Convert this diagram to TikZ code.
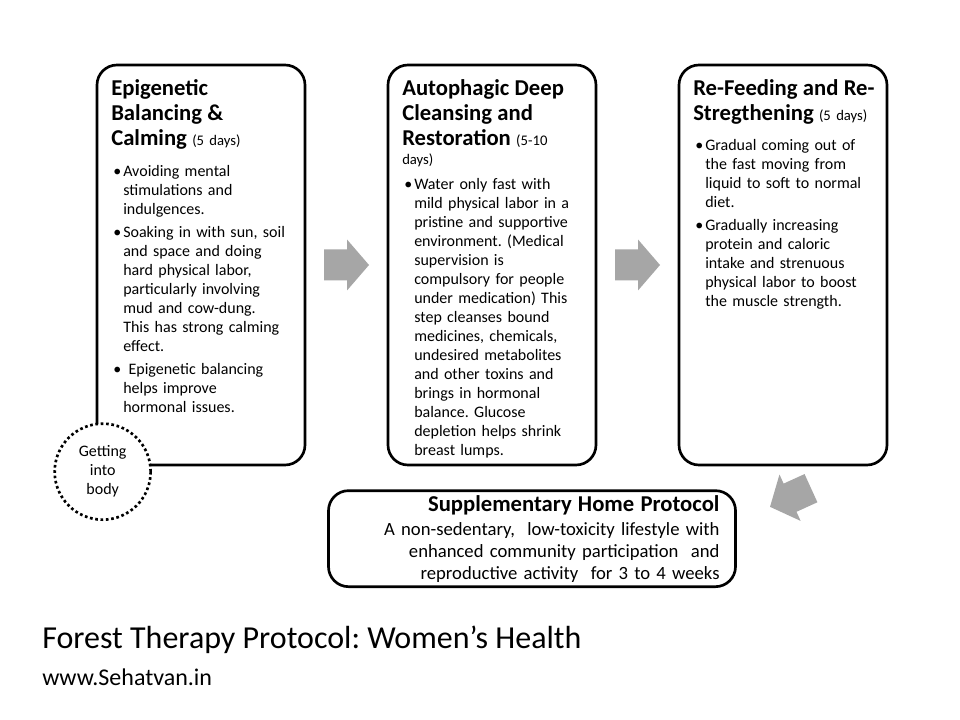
\documentclass[tikz,border=0pt]{standalone}
\usepackage{fontspec}
\setmainfont{Carlito}
\usepackage{tikz}
\usetikzlibrary{positioning,calc}

\definecolor{arrowgray}{RGB}{166,166,166}

\newcommand{\headfont}{\fontsize{17}{18.75}\selectfont\bfseries}
\newcommand{\daysfont}{\fontsize{11}{18.75}\selectfont\mdseries}
\newcommand{\bodyfont}{\fontsize{12}{14.25}\selectfont}
\newcommand{\stagebullet}{\par\hangindent=9pt\hangafter=1\noindent\makebox[9pt][l]{\kern1.5pt\textbullet}}

\begin{document}
\frenchspacing
\begin{tikzpicture}[
    x=0.75pt, y=-0.75pt,
    stage/.style={draw, line width=2pt, rounded corners=15pt, minimum width=156pt, minimum height=300pt, inner sep=0pt},
    stagetext/.style={anchor=north west, inner sep=0pt, text width=148pt, font=\bodyfont,
        execute at begin node={\setlength{\parindent}{0pt}}},
    homebox/.style={draw, line width=2pt, rounded corners=15pt, minimum height=72pt, inner xsep=12pt,
        text width=281.25pt, align=right, font=\fontsize{14}{16.3}\selectfont},
    getin/.style={circle, draw, line width=2pt, dash pattern=on 2pt off 2pt, fill=white, minimum size=72pt,
        inner sep=0pt, align=center, font=\bodyfont},
    blockarrow/.pic={\fill[arrowgray] (-22.5,-15.5) -- (0.5,-15.5) -- (0.5,-25.5) -- (22.5,0)
        -- (0.5,25.5) -- (0.5,15.5) -- (-22.5,15.5) -- cycle;}
]
    \fill[white] (0,0) rectangle (960,720);

    % Stages
    \node[stage] (epi) at (201,265) {};
    \node[stage, right=60.25pt of epi] (auto) {};
    \node[stage, right=60.25pt of auto] (refeed) {};

    % Stage 1
    \node[stagetext] (epitext) at ([xshift=11.5pt, yshift=-12pt]epi.north west) {%
        \headfont Epigenetic\newline Balancing \&\newline Calming \daysfont(5 days)\par
        \bodyfont\vspace{9pt}%
        \stagebullet Avoiding mental\newline stimulations and\newline indulgences.\par\vspace{3pt}%
        \stagebullet Soaking in with sun, soil\newline and space and doing\newline hard physical labor,\newline
            particularly involving\newline mud and cow-dung.\newline This has strong calming\newline effect.\par\vspace{3pt}%
        \stagebullet\ Epigenetic balancing\newline helps improve\newline hormonal issues.\par};

    % Stage 2
    \node[stagetext] (autotext) at ([xshift=11.5pt, yshift=-12pt]auto.north west) {%
        \headfont Autophagic Deep\newline Cleansing and\newline Restoration \daysfont(5-10\par
        {\fontsize{11}{14.25}\selectfont days)\par}
        \bodyfont\vspace{4.5pt}%
        \stagebullet Water only fast with\newline mild physical labor in a\newline pristine and supportive\newline
            environment. (Medical\newline supervision is\newline compulsory for people\newline
            under medication) This\newline step cleanses bound\newline medicines, chemicals,\newline
            undesired metabolites\newline and other toxins and\newline brings in hormonal\newline
            balance. Glucose\newline depletion helps shrink\newline breast lumps.\par};

    % Stage 3
    \node[stagetext] (refeedtext) at ([xshift=11.5pt, yshift=-12pt]refeed.north west) {%
        \headfont Re-Feeding and Re-\newline Stregthening \daysfont(5 days)\par
        \bodyfont\vspace{8.25pt}%
        \stagebullet Gradual coming out of\newline the fast moving from\newline liquid to soft to normal\newline diet.\par\vspace{3pt}%
        \stagebullet Gradually increasing\newline protein and caloric\newline intake and strenuous\newline
            physical labor to boost\newline the muscle strength.\par};

    % Start marker
    \node[getin] (body) at ([xshift=5.25pt, yshift=-4pt]epi.south west) {Getting\\into\\body};

    % Home protocol
    \node[homebox, below=17.25pt of auto, xshift=30pt] (home) {%
        {\fontsize{17}{16.3}\selectfont\bfseries Supplementary Home Protocol}\\[2.25pt]
        A non-sedentary, \ low-toxicity lifestyle with\\
        enhanced community participation \ and\\
        reproductive activity \ for 3 to 4 weeks};

    % Arrows
    \pic at ($(epi.east)!0.5!(auto.west)$) {blockarrow};
    \pic at ($(auto.east)!0.5!(refeed.west)$) {blockarrow};
    \pic[rotate=204.5] at (790.5,497.5) {blockarrow};

    % Title
    \node[anchor=west, inner sep=0pt, font=\fontsize{24}{28}\selectfont] (title) at (42,640) {Forest Therapy Protocol: Women’s Health};
    \node[anchor=west, inner sep=0pt, font=\fontsize{18}{21}\selectfont] (site) at (42,677) {www.Sehatvan.in};
\end{tikzpicture}
\end{document}
